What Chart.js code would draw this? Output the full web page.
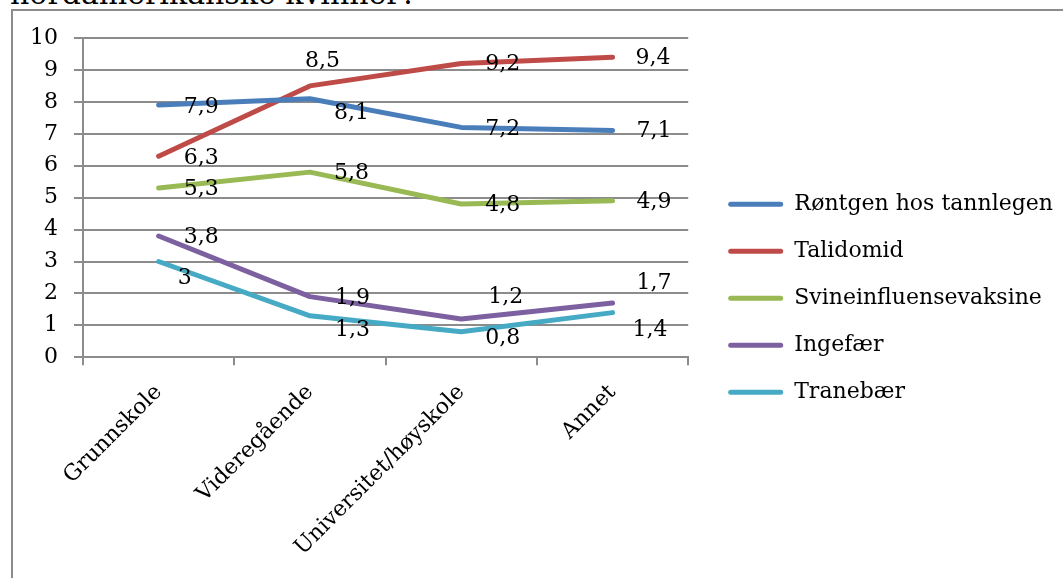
<!DOCTYPE html>
<html>
<head>
<meta charset="utf-8">
<script src="https://cdn.jsdelivr.net/npm/chart.js@4/dist/chart.umd.min.js"></script>
<style>
  html, body { margin: 0; padding: 0; background: #fff; overflow: hidden; width: 1063px; height: 578px; }
  #lead { position: absolute; left: 10px; top: -23px; font-family: "DejaVu Serif"; font-size: 30px; line-height: 34px; color: #000; white-space: nowrap; }
  #frame { position: absolute; left: 11px; top: 9px; width: 1200px; height: 700px; border-left: 2px solid #8c8c8c; border-top: 2px solid #8c8c8c; }
  #wrap { position: absolute; left: 0; top: 0; width: 1063px; height: 578px; }
</style>
</head>
<body>
<div id="lead">nordamerikanske kvinner?</div>
<div id="frame"></div>
<div id="wrap"><canvas id="c" width="1063" height="578"></canvas></div>
<script>
// Education level categories
const categories = ['Grunnskole', 'Videregående', 'Universitet/høyskole', 'Annet'];

// Series names as they appear in the legend
const seriesNames = ['Røntgen hos tannlegen', 'Talidomid', 'Svineinfluensevaksine', 'Ingefær', 'Tranebær'];

// Average scores per education level
const rontgen = [7.9, 8.1, 7.2, 7.1];
const talidomid = [6.3, 8.5, 9.2, 9.4];
const svineinfluensevaksine = [5.3, 5.8, 4.8, 4.9];
const ingefaer = [3.8, 1.9, 1.2, 1.7];
const tranebaer = [3, 1.3, 0.8, 1.4];

// Y axis ticks
const yTicks = [0, 1, 2, 3, 4, 5, 6, 7, 8, 9, 10];

const seriesValues = [rontgen, talidomid, svineinfluensevaksine, ingefaer, tranebaer];
const seriesColors = ['#4a7ebb', '#be4b48', '#98b954', '#7d60a0', '#46aac5'];

// Pixel nudges for the value labels [dx, dy], relative to each point
const labelNudge = [
  [[25, 2], [24, 15], [24, 2], [24, 1]],
  [[25, 2], [-5, -25], [24, 1], [23, 1]],
  [[25, 1], [24, 1], [24, 1], [24, 1]],
  [[25, 1], [25, 2], [27, -22], [24, -20]],
  [[19, 17], [25, 14], [24, 7], [20, 18]]
];

const FONT = { family: '"DejaVu Serif"', size: 22 };
const GRID = '#8c8c8c';

const valueLabels = {
  id: 'valueLabels',
  afterDatasetsDraw(chart) {
    const ctx = chart.ctx;
    ctx.save();
    ctx.font = FONT.size + 'px ' + FONT.family;
    ctx.fillStyle = '#000';
    ctx.textAlign = 'left';
    ctx.textBaseline = 'middle';
    chart.data.datasets.forEach((ds, i) => {
      const meta = chart.getDatasetMeta(i);
      meta.data.forEach((pt, j) => {
        const [dx, dy] = labelNudge[i][j];
        ctx.fillText(String(ds.data[j]).replace('.', ','), pt.x + dx, pt.y + dy);
      });
    });
    ctx.restore();
  }
};

new Chart(document.getElementById('c'), {
  type: 'line',
  data: {
    labels: categories,
    datasets: seriesNames.map((name, i) => ({
      label: name,
      data: seriesValues[i],
      borderColor: seriesColors[i],
      backgroundColor: seriesColors[i],
      borderWidth: 5,
      borderCapStyle: 'round',
      borderJoinStyle: 'round',
      pointRadius: 0,
      tension: 0,
      fill: false
    }))
  },
  options: {
    responsive: false,
    animation: false,
    devicePixelRatio: 1,
    events: [],
    layout: { padding: { left: 14, top: 38, right: 0, bottom: 3 } },
    scales: {
      x: {
        offset: true,
        grid: { offset: true, drawOnChartArea: false, drawTicks: true, tickLength: 8, color: GRID, lineWidth: 2 },
        border: { display: true, color: GRID, width: 2 },
        ticks: {
          minRotation: 45,
          maxRotation: 45,
          autoSkip: false,
          font: { family: FONT.family, size: FONT.size, lineHeight: 0.2 },
          color: '#000',
          padding: 22
        }
      },
      y: {
        min: 0,
        max: 10,
        afterBuildTicks(scale) { scale.ticks = yTicks.map(v => ({ value: v })); },
        grid: { color: GRID, lineWidth: 2, drawTicks: true, tickLength: 9 },
        border: { display: true, color: GRID, width: 2 },
        ticks: { font: FONT, color: '#000', padding: 16 }
      },
      gap: {
        position: 'right',
        display: true,
        grid: { display: false },
        border: { display: false },
        ticks: { display: false },
        afterFit(scale) { scale.width = 15; }
      }
    },
    plugins: {
      tooltip: { enabled: false },
      legend: {
        position: 'right',
        align: 'start',
        maxWidth: 420,
        // empty title used only as top spacing for the legend column
        title: { display: true, text: '', color: '#000', font: { size: 1 }, padding: { top: 129, bottom: 0 } },
        labels: {
          font: FONT,
          color: '#000',
          boxWidth: 55,
          boxHeight: 5,
          padding: 25,
          useBorderRadius: true,
          borderRadius: 2.5,
          generateLabels(chart) {
            return chart.data.datasets.map((ds, i) => ({
              text: ds.label,
              fillStyle: ds.borderColor,
              strokeStyle: ds.borderColor,
              fontColor: '#000',
              lineWidth: 0,
              hidden: false,
              datasetIndex: i,
              borderRadius: 2.5
            }));
          }
        }
      }
    }
  },
  plugins: [valueLabels]
});
</script>
</body>
</html>
